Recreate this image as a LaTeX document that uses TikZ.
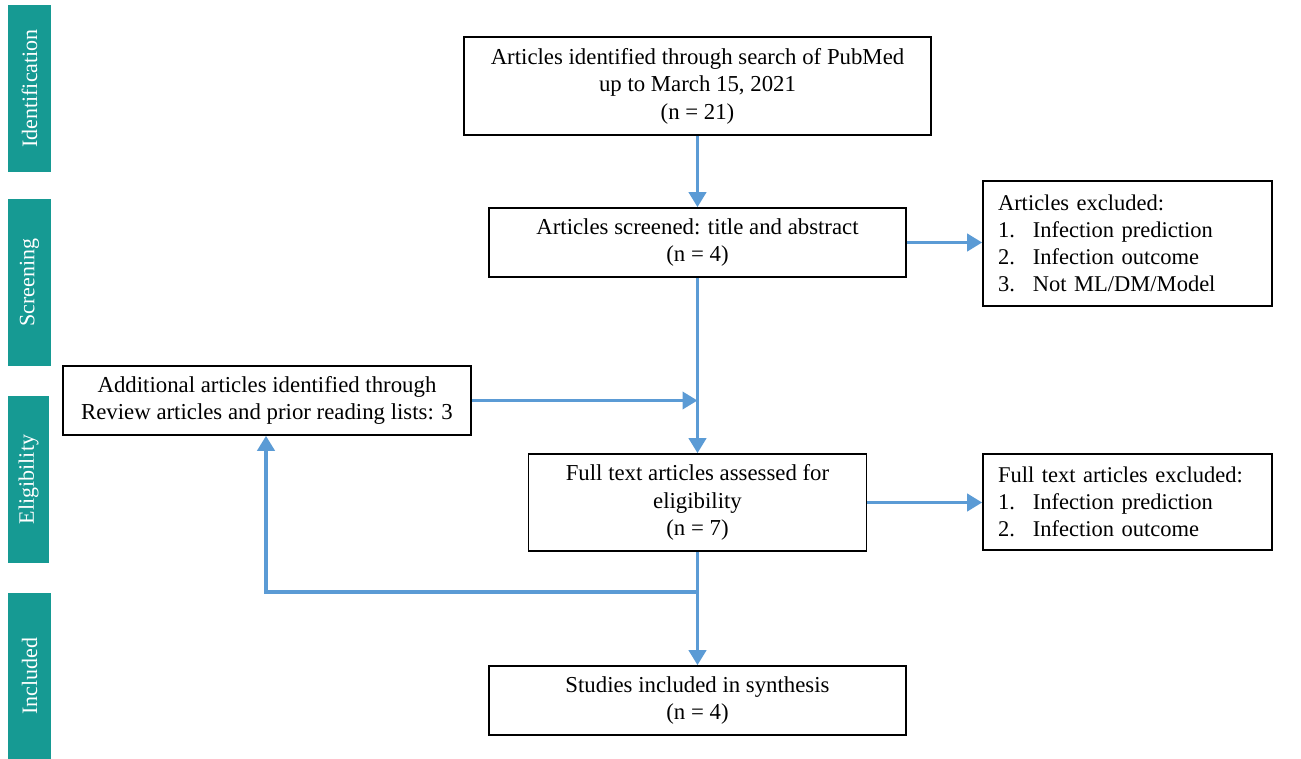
\documentclass[tikz,border=0pt]{standalone}
\usepackage{fontspec}
\setmainfont{Liberation Serif}
\usetikzlibrary{arrows.meta}
\definecolor{tealbar}{RGB}{22,154,147}
\definecolor{arrblue}{RGB}{91,155,213}
\begin{document}
\begin{tikzpicture}[x=1pt,y=-1pt,
  box/.style={draw=black,line width=1.6pt,inner sep=0pt,align=center,
    font=\fontsize{22.8}{27.5}\selectfont},
  exbox/.style={draw=black,line width=1.6pt,inner xsep=15pt,inner ysep=0pt,
    align=left,text width=259pt,font=\fontsize{22.5}{27}\selectfont},
  stage/.style={fill=tealbar,inner sep=0pt,text=white,rotate=90,
    font=\fontsize{22}{27}\selectfont},
  flow/.style={draw=arrblue,line width=3.8pt,-{Triangle[width=17pt,length=15pt]}}]
\useasboundingbox (0,0) rectangle (1301,758);
\fill[white] (0,0) rectangle (1301,758);

% stage bars
\node[stage,minimum width=167pt,minimum height=43pt] (s1) at (29.5,88.5) {Identification};
\node[stage,minimum width=167pt,minimum height=43pt] (s2) at (29.5,282.5) {Screening};
\node[stage,minimum width=167pt,minimum height=41pt] (s3) at (28.5,479.5) {Eligibility};
\node[stage,minimum width=166pt,minimum height=43pt] (s4) at (29.5,676) {Included};

% boxes
\node[box,minimum width=467pt,minimum height=98pt] (b1) at (697.5,86)
  {Articles identified through search of PubMed\\up to March 15, 2021\\(n = 21)};
\node[box,minimum width=417pt,minimum height=69pt] (b2) at (697.5,242.5)
  {Articles screened: title and abstract\\(n = 4)};
\node[box,minimum width=408pt,minimum height=69pt] (add) at (267,400.5)
  {Additional articles identified through\\Review articles and prior reading lists: 3};
\node[box,minimum width=338pt,minimum height=97pt] (b3) at (697.5,502.5)
  {Full text articles assessed for\\eligibility\\(n = 7)};
\node[box,minimum width=417pt,minimum height=69pt] (b4) at (697.5,700.5)
  {Studies included in synthesis\\(n = 4)};

\node[exbox,minimum height=125pt] (e1) at (1127.5,243.5)
  {Articles excluded:\\
   \makebox[35pt][l]{1.}Infection prediction\\
   \makebox[35pt][l]{2.}Infection outcome\\
   \makebox[35pt][l]{3.}Not ML/DM/Model};
\node[exbox,minimum height=96pt] (e2) at (1127.5,502)
  {Full text articles excluded:\\
   \makebox[35pt][l]{1.}Infection prediction\\
   \makebox[35pt][l]{2.}Infection outcome};

% connectors
\draw[flow] (b1.south) -- (b2.north);
\draw[flow] (b2.south) -- (b3.north);
\draw[flow] (b3.south) -- (b4.north);
\draw[flow] (b2.east) -- (b2.east -| e1.west);
\draw[flow] (b3.east) -- (b3.east -| e2.west);
\draw[flow] (add.east) -- (add.east -| b2.south);
\coordinate (jn) at (697.5,592);
\coordinate (turn) at (266,592);
\draw[flow] (jn) -- (turn) -- (turn |- add.south);
\end{tikzpicture}
\end{document}
